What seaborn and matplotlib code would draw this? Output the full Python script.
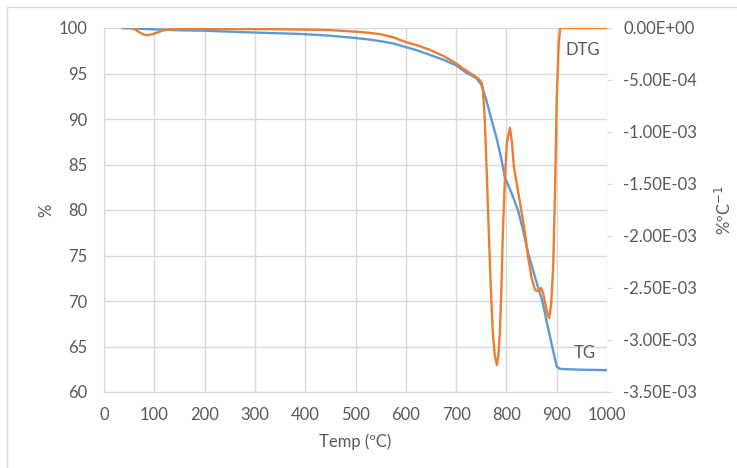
import numpy as np
import pandas as pd
import matplotlib
matplotlib.use("Agg")
import matplotlib.pyplot as plt
from matplotlib.patches import Rectangle
from matplotlib.ticker import FuncFormatter
import seaborn as sns

# ---- data ----
temp_tg = [36, 100, 150, 200, 300, 390, 450, 500, 525, 550, 575, 600, 625, 650, 675, 700,
           720, 740, 750, 760, 770, 780, 790, 797, 810, 823, 833, 843, 857, 871, 885, 900,
           906, 920, 950, 1000]
tg = [100.0, 99.85, 99.75, 99.7, 99.5, 99.35, 99.15, 98.9, 98.75, 98.55, 98.3, 97.9,
      97.5, 97.0, 96.5, 95.9, 95.1, 94.5, 93.8, 92.1, 90.0, 88.0, 85.6, 83.6, 81.9, 80.0,
      77.8, 75.3, 72.6, 70.1, 66.5, 62.8, 62.55, 62.5, 62.45, 62.4]

temp_dtg = [55, 62, 70, 78, 85, 95, 105, 115, 125, 140, 200, 300, 400, 450, 500, 525, 550,
            575, 600, 625, 648, 675, 700, 714, 730, 745, 750, 753, 757, 761, 765, 769, 773,
            777, 781, 784, 787, 790, 793, 797, 801, 807, 811, 815, 826, 837, 843, 850, 857,
            863, 869, 873, 877, 881, 885, 889, 893, 897, 900, 904, 907, 1000]
dtg = [0.0, -1.5e-5, -4e-5, -6.2e-5, -6.8e-5, -6.2e-5, -4.5e-5, -2.8e-5, -1.5e-5, -1e-5,
       -1e-5, -1e-5, -1.5e-5, -2e-5, -3.5e-5, -4.5e-5, -6e-5, -9e-5, -1.35e-4, -1.7e-4,
       -2.1e-4, -2.7e-4, -3.4e-4, -3.9e-4, -4.4e-4, -4.9e-4, -5.2e-4, -5.7e-4, -8.8e-4,
       -1.4e-3, -1.97e-3, -2.5e-3, -2.93e-3, -3.15e-3, -3.24e-3, -3.15e-3, -2.93e-3,
       -2.5e-3, -1.97e-3, -1.45e-3, -1.1e-3, -0.96e-3, -1.1e-3, -1.34e-3, -1.65e-3,
       -1.97e-3, -2.2e-3, -2.4e-3, -2.52e-3, -2.53e-3, -2.5e-3, -2.55e-3, -2.64e-3,
       -2.74e-3, -2.79e-3, -2.65e-3, -2.3e-3, -1.5e-3, -0.69e-3, -1.5e-4, 0.0, 0.0]

x_ticks = [0, 100, 200, 300, 400, 500, 600, 700, 800, 900, 1000]
y_left_ticks = [60, 65, 70, 75, 80, 85, 90, 95, 100]
y_right_ticks = [0.0, -5e-4, -1e-3, -1.5e-3, -2e-3, -2.5e-3, -3e-3, -3.5e-3]

df_tg = pd.DataFrame({"Temp": temp_tg, "TG": tg})
df_dtg = pd.DataFrame({"Temp": temp_dtg, "DTG": dtg})

# ---- style ----
sns.set_style("white")
plt.rcParams["font.family"] = ["Lato", "DejaVu Sans"]
txt = "#595959"
grid = "#D9D9D9"
blue = "#5B9BD5"
orange = "#ED7D31"
fs = 12

fig = plt.figure(figsize=(7.37, 4.68), dpi=100)
ax = fig.add_axes([104/737, 1-392/468, (607-104)/737, (392-28)/468])
ax2 = ax.twinx()

sns.lineplot(data=df_tg, x="Temp", y="TG", ax=ax, color=blue, lw=1.7)
sns.lineplot(data=df_dtg, x="Temp", y="DTG", ax=ax2, color=orange, lw=1.7)

ax.set_xlim(0, 1000)
ax.set_ylim(60, 100)
ax2.set_ylim(-3.5e-3, 0)
ax.set_xticks(x_ticks)
ax.set_yticks(y_left_ticks)
ax2.set_yticks(y_right_ticks)
ax2.yaxis.set_major_formatter(FuncFormatter(lambda v, p: f"{v:.2E}"))

ax.grid(True, color=grid, lw=1.0)
ax.set_axisbelow(True)
ax2.grid(False)
for a in (ax, ax2):
    for s in a.spines.values():
        s.set_visible(False)
ax.spines["bottom"].set_visible(True)
ax.spines["bottom"].set_color(grid)
ax.spines["left"].set_visible(True)
ax.spines["left"].set_color(grid)

ax.tick_params(axis="y", length=0, labelsize=fs, labelcolor=txt, pad=12)
ax.tick_params(axis="x", length=0, labelsize=fs, labelcolor=txt, pad=11)
ax2.tick_params(axis="y", length=3.6, color=grid, labelsize=fs, labelcolor=txt, pad=8)

ax.set_xlabel("Temp (ºC)", fontsize=fs, color=txt, labelpad=7)
ax.set_ylabel("%", fontsize=fs, color=txt, labelpad=3)
ax2.set_ylabel("%ºC$^{-1}$", fontsize=fs, color=txt, labelpad=12)

ax.text(952, 97.6, "DTG", ha="center", va="center", fontsize=fs, color=txt)
ax.text(956, 64.3, "TG", ha="center", va="center", fontsize=fs, color=txt)

fig.patches.append(Rectangle((7/737, -0.1), 1.2, 1 - 7/468 + 0.1, transform=fig.transFigure,
                             fill=False, edgecolor=grid, lw=1.0))

fig.savefig("out.png", dpi=100)
